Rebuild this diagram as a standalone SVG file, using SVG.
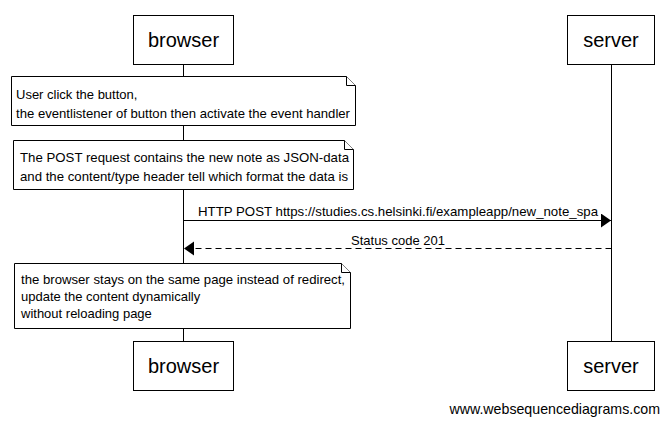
<svg xmlns="http://www.w3.org/2000/svg" width="669" height="424" viewBox="0 0 669 424">
<style>
.box{fill:#fff;stroke:#000;stroke-width:1}
.pl{font-family:"Liberation Sans",Arial,sans-serif;font-size:20px;fill:#000;text-anchor:middle}
.nt{font-family:"Liberation Sans",Arial,sans-serif;font-size:13px;fill:#000}
.ml{font-family:"Liberation Sans",Arial,sans-serif;font-size:13px;fill:#000}
.life{stroke:#000;stroke-width:1}
.note{fill:#fff;stroke:#000;stroke-width:1}
.msg{stroke:#000;stroke-width:1;fill:none}
</style>
<defs>
<marker id="ah" markerWidth="11" markerHeight="16" refX="10" refY="7" orient="auto" markerUnits="userSpaceOnUse">
<path d="M0,0 L10,7 L0,14 Z" fill="#000"/>
</marker>
</defs>
<rect width="669" height="424" fill="#fff"/>
<g id="lifelines">
<line class="life" x1="183.5" y1="64" x2="183.5" y2="341"/>
<line class="life" x1="611.5" y1="64" x2="611.5" y2="341"/>
</g>
<g id="browser-top"><rect class="box" x="133.5" y="15.5" width="100" height="49"/><text class="pl" x="183.5" y="47">browser</text></g>
<g id="server-top"><rect class="box" x="567.5" y="15.5" width="87" height="49"/><text class="pl" x="611" y="47">server</text></g>
<g id="browser-bottom"><rect class="box" x="133.5" y="341.5" width="100" height="49"/><text class="pl" x="183.5" y="373">browser</text></g>
<g id="server-bottom"><rect class="box" x="567.5" y="341.5" width="87" height="49"/><text class="pl" x="611" y="373">server</text></g>
<g id="note1">
<path class="note" d="M11.5,76.5 H346.5 L355.5,85.5 V125.5 H11.5 Z"/>
<path class="note" d="M346.5,76.5 V85.5 H355.5"/>
<text class="nt" x="16" y="99">User click the button,</text>
<text class="nt" x="16" y="118" textLength="334" lengthAdjust="spacingAndGlyphs">the eventlistener of button then activate the event handler</text>
</g>
<g id="note2">
<path class="note" d="M13.5,140.5 H344.5 L353.5,149.5 V189.5 H13.5 Z"/>
<path class="note" d="M344.5,140.5 V149.5 H353.5"/>
<text class="nt" x="20" y="162" textLength="329" lengthAdjust="spacingAndGlyphs">The POST request contains the new note as JSON-data</text>
<text class="nt" x="20" y="181" textLength="328" lengthAdjust="spacingAndGlyphs">and the content/type header tell which format the data is</text>
</g>
<g id="note3">
<path class="note" d="M14.5,263.5 H341.5 L350.5,272.5 V328.5 H14.5 Z"/>
<path class="note" d="M341.5,263.5 V272.5 H350.5"/>
<text class="nt" x="21" y="284" textLength="324" lengthAdjust="spacingAndGlyphs">the browser stays on the same page instead of redirect,</text>
<text class="nt" x="21" y="301">update the content dynamically</text>
<text class="nt" x="21" y="318">without reloading page</text>
</g>
<g id="connectors">
<line class="msg" x1="183.5" y1="220.5" x2="611" y2="220.5" marker-end="url(#ah)"/>
<text class="ml" x="198" y="216" textLength="400" lengthAdjust="spacingAndGlyphs">HTTP POST https://studies.cs.helsinki.fi/exampleapp/new_note_spa</text>
<line class="msg" x1="611.5" y1="248.5" x2="184" y2="248.5" stroke-dasharray="6,4" marker-end="url(#ah)"/>
<text class="ml" x="398" y="245" text-anchor="middle">Status code 201</text>
</g>
<text x="660" y="414" font-family="Liberation Sans,Arial,sans-serif" font-size="14.2" text-anchor="end" fill="#000">www.websequencediagrams.com</text>
</svg>
